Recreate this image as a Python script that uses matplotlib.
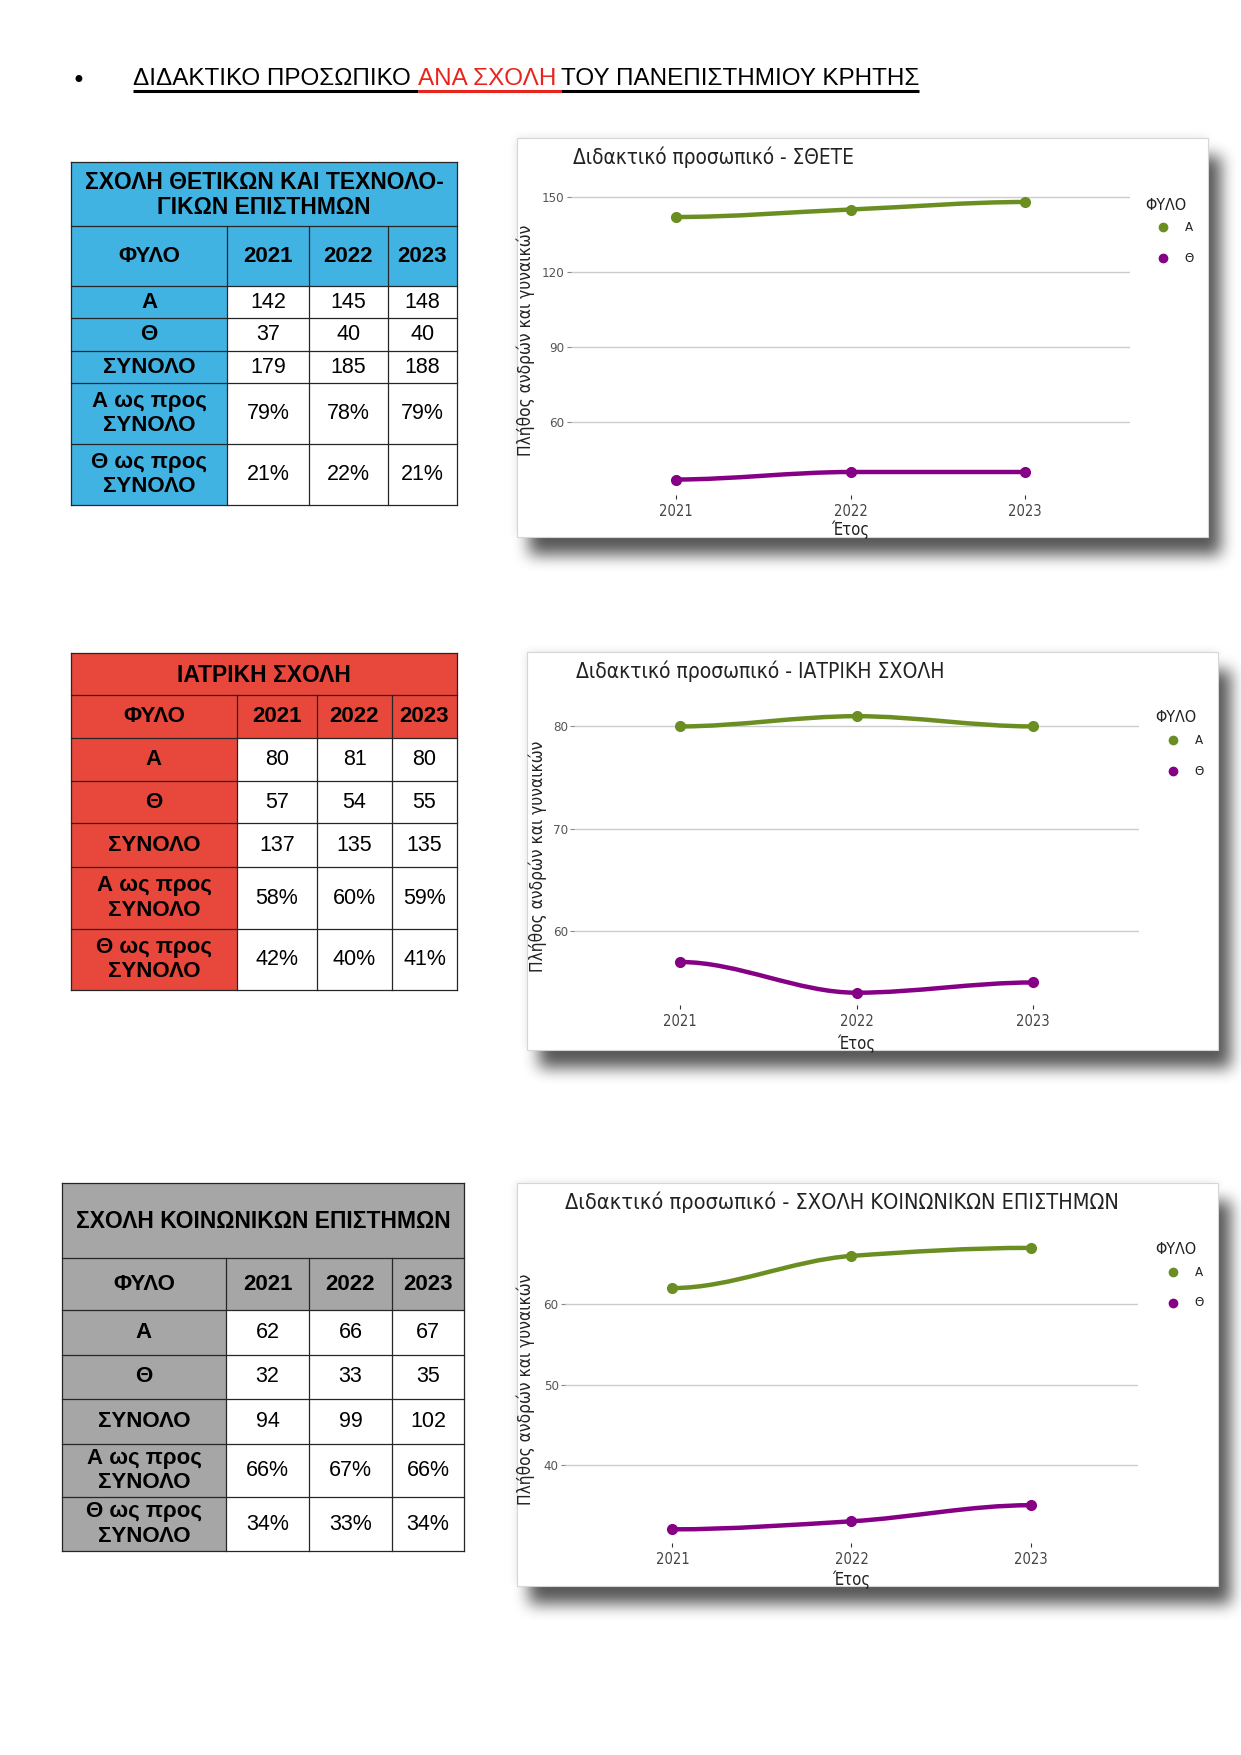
import numpy as np
import matplotlib

matplotlib.use("Agg")
import matplotlib.pyplot as plt
from matplotlib.patches import Rectangle, PathPatch
from matplotlib.path import Path
from matplotlib import font_manager

W, H = 1241, 1755

# ---- data -------------------------------------------------------------
YEARS = [2021, 2022, 2023]
SEX = ["Α", "Θ"]
SERIES_COLORS = ["#6b8e23", "#850085"]

STHETE_A = [142, 145, 148]
STHETE_TH = [37, 40, 40]
MED_A = [80, 81, 80]
MED_TH = [57, 54, 55]
SOC_A = [62, 66, 67]
SOC_TH = [32, 33, 35]

TABLE_TITLES = ["ΣΧΟΛΗ ΘΕΤΙΚΩΝ ΚΑΙ ΤΕΧΝΟΛΟ-\nΓΙΚΩΝ ΕΠΙΣΤΗΜΩΝ",
                "ΙΑΤΡΙΚΗ ΣΧΟΛΗ",
                "ΣΧΟΛΗ ΚΟΙΝΩΝΙΚΩΝ ΕΠΙΣΤΗΜΩΝ"]
CHART_TITLES = ["Διδακτικό προσωπικό - ΣΘΕΤΕ",
                "Διδακτικό προσωπικό - ΙΑΤΡΙΚΗ ΣΧΟΛΗ",
                "Διδακτικό προσωπικό - ΣΧΟΛΗ ΚΟΙΝΩΝΙΚΩΝ ΕΠΙΣΤΗΜΩΝ"]
Y_TICKS = [[60, 90, 120, 150], [60, 70, 80], [40, 50, 60]]
ROW_LABELS = ["Α", "Θ", "ΣΥΝΟΛΟ", "Α ως προς\nΣΥΝΟΛΟ", "Θ ως προς\nΣΥΝΟΛΟ"]
HEADER = "ΦΥΛΟ"
LEGEND_TITLE = "ΦΥΛΟ"
Y_LABEL = "Πλήθος ανδρών και γυναικών"
X_LABEL = "Έτος"
PAGE_TITLE = [("ΔΙΔΑΚΤΙΚΟ ΠΡΟΣΩΠΙΚΟ ", "black"), ("ΑΝΑ ΣΧΟΛΗ ", "#e8241c"),
              ("ΤΟΥ ΠΑΝΕΠΙΣΤΗΜΙΟΥ ΚΡΗΤΗΣ", "black")]

SCHOOLS = [(STHETE_A, STHETE_TH), (MED_A, MED_TH), (SOC_A, SOC_TH)]

# ---- layout (page pixels) ---------------------------------------------
TABLES = [
    dict(x=[71, 227, 309, 388, 457], y=[162, 226, 286, 318, 351, 383, 444, 505], color="#41b3e3"),
    dict(x=[71, 237, 317, 392, 457], y=[653, 695, 738, 781, 823, 867, 929, 990], color="#e8473b"),
    dict(x=[62, 226, 309, 392, 464], y=[1183, 1258, 1310, 1355, 1399, 1444, 1497, 1551], color="#a6a6a6"),
]
PANELS = [(517, 138, 1208, 537), (527, 652, 1218, 1050), (517, 1183, 1218, 1586)]
AXES = [(571, 185, 1130, 495), (574, 708, 1139, 1005), (565, 1235, 1138, 1543)]
YLIMS = [(30.8, 154.8), (52.8, 81.8), (30.3, 68.6)]
TITLE_POS = [(573, 157, 282), (576, 671, 371), (565, 1202, 555)]
LEGEND_POS = [(1145, 205), (1155, 718), (1155, 1250)]
YLAB_X = [526, 538, 526]
XLAB_Y = [530, 1044, 1580]

SANS = "Liberation Sans"
_cond = [f for f in font_manager.fontManager.ttflist
         if f.name == "DejaVu Sans" and str(f.stretch) in ("condensed", "semi-condensed")]
COND = dict(family="DejaVu Sans", fontstretch="condensed") if _cond else dict(family=SANS)

fig = plt.figure(figsize=(W / 100, H / 100), dpi=100)
page = fig.add_axes([0, 0, 1, 1], zorder=0)
renderer = fig.canvas.get_renderer()


def fit_text(x, y, s, width=None, height=None, size=12, **kw):
    t = page.text(x, y, s, fontsize=size, **kw)
    bb = t.get_window_extent(renderer)
    if width:
        t.set_fontsize(size * width / bb.width)
    elif height:
        t.set_fontsize(size * height / bb.height)
    return t


def text_w(s, size, **kw):
    t = page.text(0, 0, s, fontsize=size, **kw)
    w = t.get_window_extent(renderer).width
    t.remove()
    return w


def box_blur(a, r, axis):
    pad = [(0, 0), (0, 0)]
    pad[axis] = (r + 1, r)
    c = np.cumsum(np.pad(a, pad), axis=axis)
    n = a.shape[axis]
    if axis == 0:
        return (c[2 * r + 1:2 * r + 1 + n] - c[:n]) / (2 * r + 1)
    return (c[:, 2 * r + 1:2 * r + 1 + n] - c[:, :n]) / (2 * r + 1)


def blur(a, r):
    for _ in range(3):
        a = box_blur(box_blur(a, r, 0), r, 1)
    return a


# ---- panel shadows ----------------------------------------------------
shadow = np.zeros((H, W))
halo = np.zeros((H, W))
for x0, y0, x1, y1 in PANELS:
    shadow[y0 + 18:y1 + 18, x0 + 12:x1 + 13] = 1
    halo[y0:y1, x0:x1] = 1
alpha = np.maximum(0.66 * blur(shadow, 7), 0.12 * blur(halo, 4))
rgba = np.zeros((H, W, 4))
rgba[..., 3] = np.clip(alpha, 0, 1)
page.imshow(rgba, extent=(0, W, H, 0), interpolation="bilinear", aspect="auto", zorder=0)
page.set_xlim(0, W)
page.set_ylim(H, 0)
page.axis("off")

panel_patches = []
for x0, y0, x1, y1 in PANELS:
    p = Rectangle((x0, y0), x1 - x0, y1 - y0, facecolor="white", edgecolor="#d6d6d6",
                  linewidth=0.8, zorder=1)
    page.add_patch(p)
    panel_patches.append(p)

# ---- page title -------------------------------------------------------
page.text(78, 81, "•", fontsize=17, ha="center", va="center", color="black")
full = "".join(s for s, _ in PAGE_TITLE)
tsize = 14 * 790 / text_w(full, 14, family=SANS)
bar_w = text_w("|", tsize, family=SANS)
prefix = ""
for s, c in PAGE_TITLE:
    start = 133 + text_w(prefix + "|", tsize, family=SANS) - bar_w
    prefix += s
    end = 133 + text_w(prefix + "|", tsize, family=SANS) - bar_w
    page.text(start, 85, s, fontsize=tsize, family=SANS, color=c, ha="left", va="baseline")
    page.plot([start, end], [90.5, 90.5], color=c, lw=2.2, solid_capstyle="butt")


# ---- tables -----------------------------------------------------------
def pct(part, total):
    return [f"{round(100 * p / t)}%" for p, t in zip(part, total)]


for tb, title, (a, th) in zip(TABLES, TABLE_TITLES, SCHOOLS):
    xs, ys, col = tb["x"], tb["y"], tb["color"]
    total = [i + j for i, j in zip(a, th)]
    rows = [[str(v) for v in a], [str(v) for v in th], [str(v) for v in total],
            pct(a, total), pct(th, total)]
    page.add_patch(Rectangle((xs[0], ys[0]), xs[-1] - xs[0], ys[2] - ys[0],
                             facecolor=col, edgecolor="none", zorder=1))
    page.add_patch(Rectangle((xs[0], ys[2]), xs[1] - xs[0], ys[-1] - ys[2],
                             facecolor=col, edgecolor="none", zorder=1))
    lc = "#262626"
    for yy in ys:
        page.plot([xs[0], xs[-1]], [yy, yy], color=lc, lw=0.9, zorder=2)
    for xx in xs:
        y_start = ys[0] if xx in (xs[0], xs[-1]) else ys[1]
        page.plot([xx, xx], [y_start, ys[-1]], color=lc, lw=0.9, zorder=2)
    page.text((xs[0] + xs[-1]) / 2, (ys[0] + ys[1]) / 2 + 1, title, ha="center", va="center",
              fontsize=16.5, weight="bold", family=SANS, linespacing=1.12, zorder=3)
    cy = (ys[1] + ys[2]) / 2
    page.text((xs[0] + xs[1]) / 2, cy, HEADER, ha="center", va="center", fontsize=16,
              weight="bold", family=SANS, zorder=3)
    for j, yr in enumerate(YEARS):
        page.text((xs[j + 1] + xs[j + 2]) / 2, cy, str(yr), ha="center", va="center",
                  fontsize=16, weight="bold", family=SANS, zorder=3)
    for i, (lab, vals) in enumerate(zip(ROW_LABELS, rows)):
        cy = (ys[i + 2] + ys[i + 3]) / 2
        page.text((xs[0] + xs[1]) / 2, cy, lab, ha="center", va="center", fontsize=16,
                  weight="bold", family=SANS, linespacing=1.22, zorder=3)
        for j, v in enumerate(vals):
            page.text((xs[j + 1] + xs[j + 2]) / 2, cy, v, ha="center", va="center",
                      fontsize=15.5, family=SANS, zorder=3)


# ---- charts -----------------------------------------------------------
def smooth_line(ax, xs, ys, color):
    """Monotone cubic (flat ends) drawn as Bezier segments through the points."""
    xs = np.asarray(xs, float)
    ys = np.asarray(ys, float)
    sec = np.diff(ys) / np.diff(xs)
    m = np.zeros(len(xs))
    for i in range(1, len(xs) - 1):
        if sec[i - 1] * sec[i] > 0:
            m[i] = 2 * sec[i - 1] * sec[i] / (sec[i - 1] + sec[i])
    verts = [(xs[0], ys[0])]
    codes = [Path.MOVETO]
    for i in range(len(xs) - 1):
        h = xs[i + 1] - xs[i]
        verts += [(xs[i] + h / 3, ys[i] + m[i] * h / 3),
                  (xs[i + 1] - h / 3, ys[i + 1] - m[i + 1] * h / 3),
                  (xs[i + 1], ys[i + 1])]
        codes += [Path.CURVE4] * 3
    ax.add_patch(PathPatch(Path(verts, codes), fill=False, edgecolor=color, lw=3.2,
                           capstyle="round", joinstyle="round", zorder=3))


for k, (a, th) in enumerate(SCHOOLS):
    x0, y0, x1, y1 = AXES[k]
    ax = fig.add_axes([x0 / W, 1 - y1 / H, (x1 - x0) / W, (y1 - y0) / H], zorder=2)
    ax.set_facecolor("none")
    ax.set_xlim(YEARS[0] - 0.6, YEARS[-1] + 0.6)
    ax.set_ylim(*YLIMS[k])
    for s in ax.spines.values():
        s.set_visible(False)
    ax.set_yticks(Y_TICKS[k])
    ax.set_xticks(YEARS)
    ax.set_xticklabels([str(y) for y in YEARS])
    ax.yaxis.grid(True, color="#cccccc", lw=1)
    ax.set_axisbelow(True)
    ax.tick_params(axis="y", length=3, pad=1.5, color="#888888", labelcolor="#555555",
                   labelsize=9.5)
    ax.tick_params(axis="x", length=3, pad=3.5, color="#333333", labelcolor="#444444",
                   labelsize=10.5)
    for lab in ax.get_xticklabels() + ax.get_yticklabels():
        lab.set_family(COND["family"])
        if "fontstretch" in COND:
            lab.set_fontstretch(COND["fontstretch"])
    for vals, c in zip((a, th), SERIES_COLORS):
        smooth_line(ax, YEARS, vals, c)
        ax.plot(YEARS, vals, "o", color=c, ms=7, zorder=4)

    tx, ty, tw = TITLE_POS[k]
    fit_text(tx, ty, CHART_TITLES[k], width=tw, ha="left", va="center",
             color="#222222", zorder=3, **COND)
    fit_text(YLAB_X[k], (y0 + y1) / 2, Y_LABEL, height=232, rotation=90,
             ha="center", va="center", color="#222222", zorder=3, **COND)
    xl = page.text((x0 + x1) / 2, XLAB_Y[k], X_LABEL, fontsize=12,
                   ha="center", va="center", color="#222222", zorder=3, **COND)
    xl.set_clip_path(panel_patches[k])

    lx, ly = LEGEND_POS[k]
    page.text(lx, ly, LEGEND_TITLE, fontsize=11.5, ha="left", va="center",
              color="#222222", zorder=3, **COND)
    for i, (name, c) in enumerate(zip(SEX, SERIES_COLORS)):
        yy = ly + 22 + 31 * i
        page.plot([lx + 18], [yy], "o", color=c, ms=6, zorder=3)
        page.text(lx + 44, yy, name, fontsize=9.5, ha="center", va="center",
                  color="#222222", zorder=3, **COND)

fig.savefig("out.png", dpi=100, facecolor="white")
